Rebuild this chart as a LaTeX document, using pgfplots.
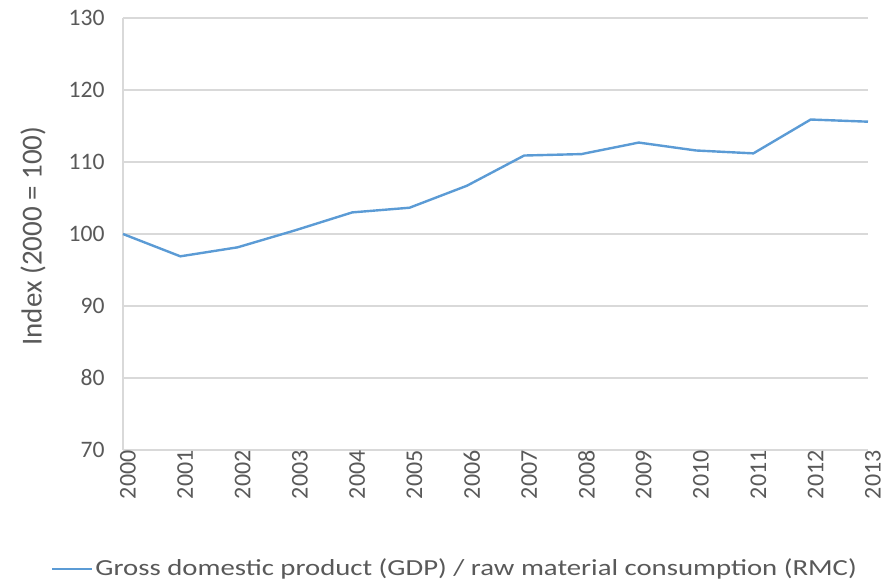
\documentclass[border=0pt]{standalone}
\usepackage{fontspec}
\setmainfont{Carlito}
\newfontfamily\legfont[FakeStretch=1.25]{Carlito}
\usepackage{pgfplots}
\pgfplotsset{compat=1.18}
\definecolor{linec}{HTML}{5B9BD5}
\definecolor{txt}{HTML}{595959}
\definecolor{gridc}{HTML}{D9D9D9}
\begin{document}
\begin{tikzpicture}[x=1pt,y=1pt]
\useasboundingbox (-61.5,-66.5) rectangle (384,225);
\begin{axis}[
  at={(0,0)}, anchor=south west,
  scale only axis, width=372.5pt, height=216pt,
  xmin=2000, xmax=2013, ymin=70, ymax=130,
  xtick={2000,...,2013}, ytick={70,80,...,130},
  xticklabel style={rotate=90, anchor=east, font=\fontsize{12}{12}\selectfont, text=txt, inner sep=0pt, yshift=-2.5pt},
  yticklabel style={font=\fontsize{11.8}{12}\selectfont, text=txt, inner sep=0pt, xshift=-9pt},
  /pgf/number format/assume math mode=true,
  /pgf/number format/1000 sep={},
  tick style={draw=none},
  ymajorgrids, grid style={gridc, line width=0.6pt},
  axis line style={draw=none},
  axis x line*=bottom,
  ylabel={Index (2000 = 100)},
  ylabel style={font=\fontsize{14.5}{15}\selectfont, text=txt, at={(axis description cs:-0.1208,0.495)}, anchor=center, rotate=0},
  legend style={at={(axis description cs:0.4456,-0.275)}, anchor=center, draw=none, font=\legfont\fontsize{11.5}{12}\selectfont, text=txt, inner sep=0pt, nodes={inner xsep=1pt}},
  legend cell align=left,
  legend image code/.code={\draw[#1] (0pt,0pt) -- (20pt,0pt);},
  clip=false,
]
\draw[gridc, line width=0.6pt] (axis cs:2000,70) -- (axis cs:2000,130);
\addplot[linec, line width=1.2pt, mark=none] coordinates {
(2000,100.0) (2001,96.9) (2002,98.15) (2003,100.5) (2004,103.0) (2005,103.65) (2006,106.7) (2007,110.9) (2008,111.1) (2009,112.7) (2010,111.6) (2011,111.2) (2012,115.9) (2013,115.6)
};
\addlegendentry{Gross domestic product (GDP) / raw material consumption (RMC)}
\end{axis}
\end{tikzpicture}
\end{document}
